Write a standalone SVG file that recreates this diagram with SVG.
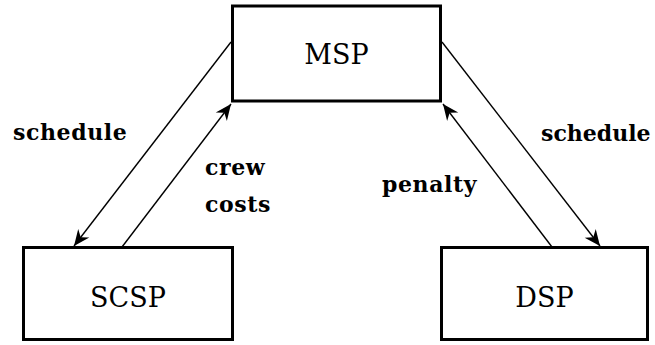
<svg xmlns="http://www.w3.org/2000/svg" width="655" height="345" viewBox="0 0 655 345">
  <style>
    .box { fill: #ffffff; stroke: #000000; stroke-width: 3; }
    .name { font-family: "DejaVu Serif", "Liberation Serif", serif; font-size: 27px; fill: #000; text-anchor: middle; }
    .lbl { font-family: "DejaVu Serif", "Liberation Serif", serif; font-weight: bold; font-size: 22px; letter-spacing: 0.6px; fill: #000; }
    .edge { stroke: #000; stroke-width: 1.4; fill: none; marker-end: url(#arr); }
  </style>
  <defs>
    <marker id="arr" markerUnits="userSpaceOnUse" markerWidth="20" markerHeight="18" viewBox="-18 -9 20 18" refX="0" refY="0" orient="auto">
      <path d="M0,0 L-16,-7 L-11,0 L-16,7 Z" fill="#000"/>
    </marker>
  </defs>
  <rect width="655" height="345" fill="#ffffff"/>
  <g id="connectors">
    <line class="edge" x1="231" y1="42" x2="74" y2="246"/>
    <line class="edge" x1="122" y1="247" x2="231" y2="104"/>
    <line class="edge" x1="442" y1="42" x2="600" y2="246"/>
    <line class="edge" x1="552" y1="247" x2="443" y2="104"/>
  </g>
  <g id="MSP">
    <rect class="box" x="232.5" y="6" width="208" height="95"/>
    <text class="name" x="336.5" y="64">MSP</text>
  </g>
  <g id="SCSP">
    <rect class="box" x="23.5" y="247.5" width="209" height="92"/>
    <text class="name" x="128" y="307">SCSP</text>
  </g>
  <g id="DSP">
    <rect class="box" x="441.5" y="247.5" width="206" height="92"/>
    <text class="name" x="544.5" y="307">DSP</text>
  </g>
  <g id="labels">
    <text class="lbl" x="13" y="140">schedule</text>
    <text class="lbl" x="541" y="141" style="letter-spacing:0">schedule</text>
    <text class="lbl" x="205" y="175">crew</text>
    <text class="lbl" x="205" y="212">costs</text>
    <text class="lbl" x="382" y="192">penalty</text>
  </g>
</svg>
